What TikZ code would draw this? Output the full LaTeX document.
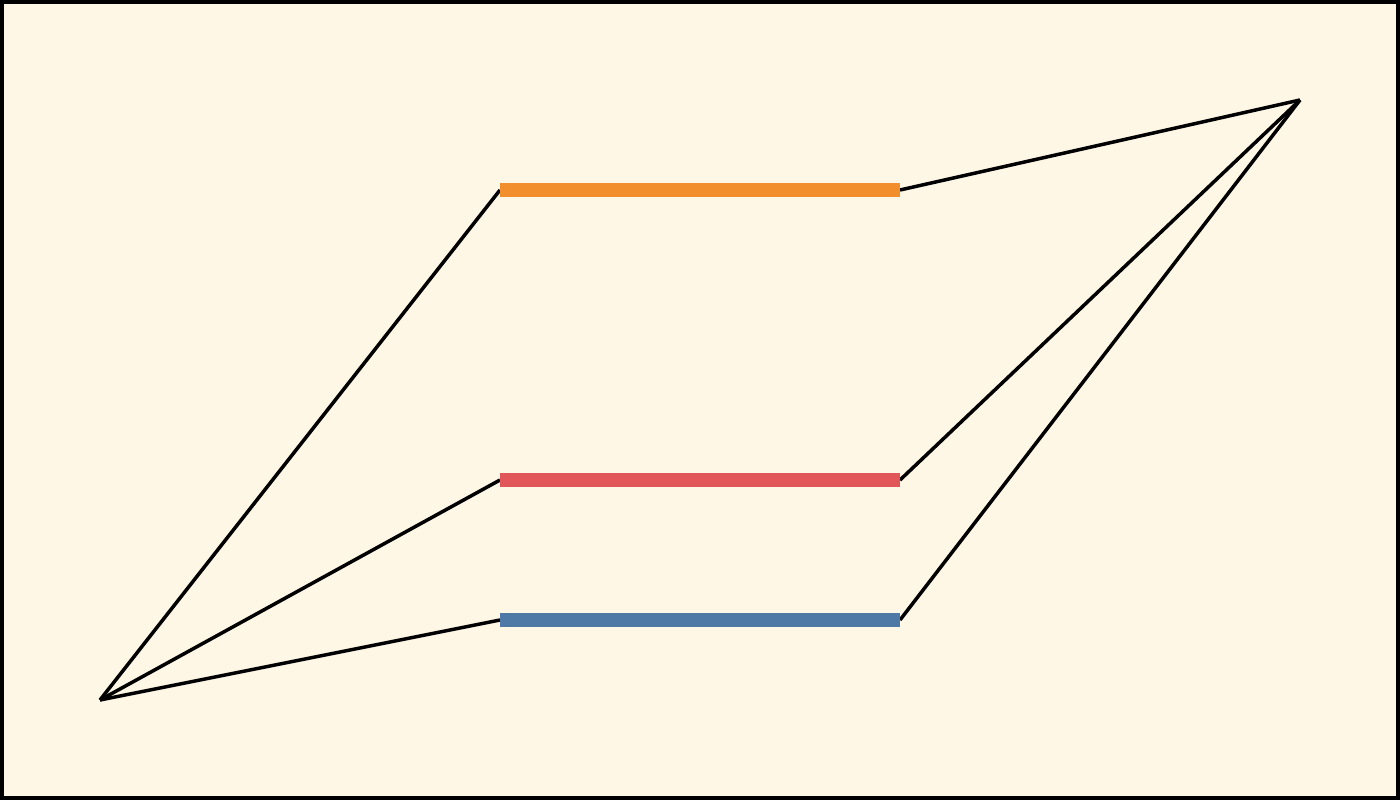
\documentclass[tikz,border=0pt]{standalone}
\definecolor{bg}{HTML}{FFF7E6}
\definecolor{barorange}{HTML}{F28E2B}
\definecolor{barred}{HTML}{E15759}
\definecolor{barblue}{HTML}{4E79A7}
\tikzset{
  bar/.style={line width=14pt},
  link/.style={line width=3.5pt, black, line join=miter},
}
\begin{document}
\begin{tikzpicture}[x=1pt,y=-1pt]
\useasboundingbox (0,0) rectangle (1400,800);
\fill[bg] (0,0) rectangle (1400,800);
\draw[line width=4pt] (2,2) rectangle (1398,798);
\coordinate (L) at (100,700);
\coordinate (R) at (1300,100);
\coordinate (o1) at (500,190); \coordinate (o2) at (900,190);
\coordinate (r1) at (500,480); \coordinate (r2) at (900,480);
\coordinate (b1) at (500,620); \coordinate (b2) at (900,620);
\draw[link] (L) -- (o1);
\draw[link] (L) -- (r1);
\draw[link] (L) -- (b1);
\draw[link] (o2) -- (R);
\draw[link] (r2) -- (R);
\draw[link] (b2) -- (R);
\draw[bar,barorange] (o1) -- (o2);
\draw[bar,barred] (r1) -- (r2);
\draw[bar,barblue] (b1) -- (b2);
\end{tikzpicture}
\end{document}
